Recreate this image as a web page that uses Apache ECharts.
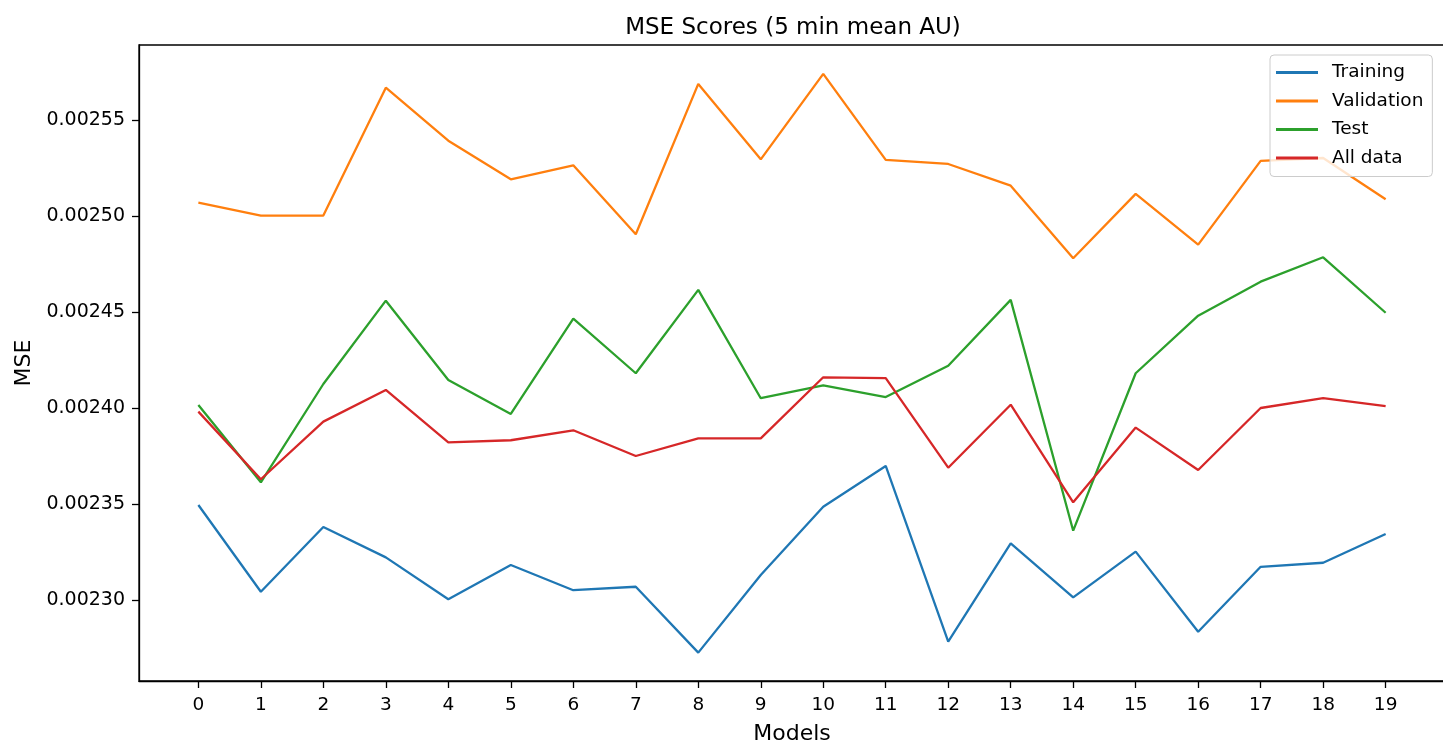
<!DOCTYPE html>
<html>
<head>
<meta charset="utf-8">
<script src="https://cdn.jsdelivr.net/npm/echarts@6/dist/echarts.min.js"></script>
<style>
html,body{margin:0;padding:0;background:#fff;}
#chart{width:1443px;height:748px;}
</style>
</head>
<body>
<div id="chart"></div>
<script>
const models = [0,1,2,3,4,5,6,7,8,9,10,11,12,13,14,15,16,17,18,19];
const yTicks = [0.0023, 0.00235, 0.0024, 0.00245, 0.0025, 0.00255];

const training = [0.0023495,0.0023043,0.0023380,0.0023222,0.0023004,0.0023182,0.0023051,0.0023069,0.0022726,0.0023130,
                  0.0023486,0.0023698,0.0022783,0.0023295,0.0023014,0.0023252,0.0022835,0.0023173,0.0023194,0.0023344];
const validation = [0.0025069,0.0025002,0.0025002,0.0025668,0.0025392,0.0025191,0.0025264,0.0024905,0.0025688,0.0025295,
                    0.0025740,0.0025292,0.0025271,0.0025158,0.0024780,0.0025115,0.0024851,0.0025287,0.0025302,0.0025087];
const test = [0.0024016,0.0023613,0.0024125,0.0024559,0.0024146,0.0023969,0.0024465,0.0024181,0.0024615,0.0024051,
              0.0024118,0.0024057,0.0024220,0.0024563,0.0023361,0.0024181,0.0024481,0.0024658,0.0024785,0.0024496];
const allData = [0.0023981,0.0023629,0.0023929,0.0024094,0.0023821,0.0023832,0.0023884,0.0023750,0.0023842,0.0023842,
                 0.0024160,0.0024156,0.0023689,0.0024017,0.0023509,0.0023898,0.0023677,0.0024000,0.0024051,0.0024010];

const seriesNames = ['Training','Validation','Test','All data'];
const seriesColors = ['#1f77b4','#ff7f0e','#2ca02c','#d62728'];
const seriesValues = [training, validation, test, allData];

const FONT = 'DejaVu Sans';
const chart = echarts.init(document.getElementById('chart'), null, {renderer:'canvas'});
chart.setOption({
  animation: false,
  backgroundColor: '#ffffff',
  title: {
    text: 'MSE Scores (5 min mean AU)',
    left: 788, top: 12, textAlign: 'center',
    textStyle: {fontFamily: FONT, fontSize: 23, fontWeight: 'normal', color: '#000'}
  },
  legend: {
    orient: 'vertical', left: 1270, top: 55,
    padding: [8, 9, 9, 6],
    itemWidth: 42, itemHeight: 3, itemGap: 9.5, icon: 'rect',
    backgroundColor: 'rgba(255,255,255,0.8)', borderColor: '#cccccc', borderWidth: 1, borderRadius: 4,
    textStyle: {fontFamily: FONT, fontSize: 18.5, color: '#000', padding: [0,0,0,9]},
    data: seriesNames
  },
  grid: {left: 139, right: -2, top: 45, bottom: 67, show: true, borderColor: '#000', borderWidth: 1.3,
         containLabel: false, outerBoundsMode: 'none'},
  xAxis: {
    type: 'value', min: -0.95, max: 19.95,
    name: 'Models', nameLocation: 'middle', nameGap: 42,
    nameTextStyle: {fontFamily: FONT, fontSize: 22, color: '#000'},
    axisLine: {show: true, onZero: false, lineStyle: {color: '#000', width: 1.3}},
    axisTick: {show: true, length: 7, inside: false, customValues: models, lineStyle: {color: '#000', width: 1.3}},
    axisLabel: {customValues: models, margin: 15, fontFamily: FONT, fontSize: 18.5, color: '#000',
                formatter: v => String(Math.round(v))},
    splitLine: {show: false}
  },
  yAxis: {
    type: 'value', min: 0.00225781, max: 0.00258906,
    name: 'MSE', nameLocation: 'middle', nameGap: 102, nameRotate: 90,
    nameTextStyle: {fontFamily: FONT, fontSize: 22, color: '#000'},
    axisLine: {show: true, onZero: false, lineStyle: {color: '#000', width: 1.3}},
    axisTick: {show: true, length: 7, inside: false, customValues: yTicks, lineStyle: {color: '#000', width: 1.3}},
    axisLabel: {customValues: yTicks, margin: 14, fontFamily: FONT, fontSize: 19, color: '#000',
                formatter: v => v.toFixed(5)},
    splitLine: {show: false}
  },
  series: seriesNames.map((name, si) => ({
    name: name, type: 'line', showSymbol: false, symbol: 'none',
    color: seriesColors[si],
    lineStyle: {width: 2.3, color: seriesColors[si]},
    data: models.map((m, i) => [m, seriesValues[si][i]])
  }))
});
</script>
</body>
</html>
